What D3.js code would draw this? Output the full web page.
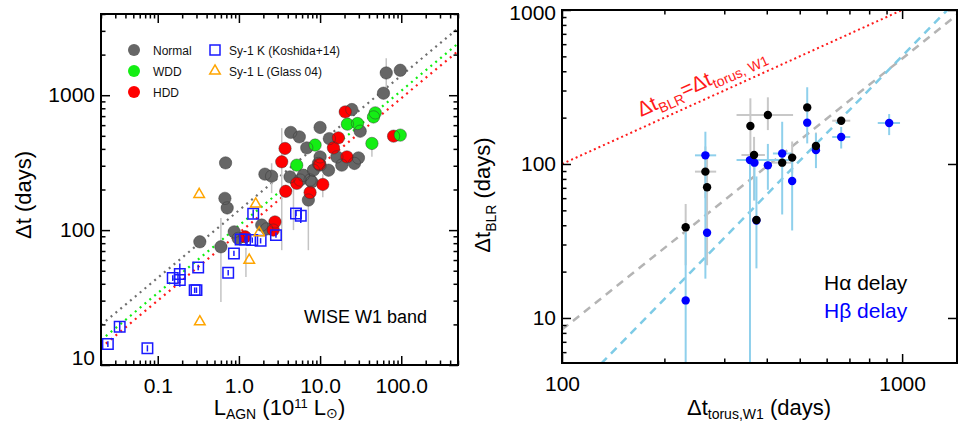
<!DOCTYPE html>
<html>
<head>
<meta charset="utf-8">
<script src="https://cdn.jsdelivr.net/npm/d3@7"></script>
<style>
  body { margin: 0; background: #fff; }
  svg { display: block; }
</style>
</head>
<body>
<div id="chart"></div>
<script>
// ---- left panel: [L_AGN (1e11 Lsun), dt (days)] ----
const normal = [
  [97.2, 1531], [65.3, 1462], [60.4, 1035], [24.6, 783], [31.2, 541], [10.0, 577],
  [4.35, 530], [5.55, 491], [13.0, 477], [6.85, 407], [16.1, 349], [29.7, 343],
  [26.5, 312], [18.5, 303], [10.0, 349], [9.53, 312], [12.7, 278], [8.27, 278],
  [6.22, 255], [5.66, 235], [4.26, 248], [7.53, 235], [7.17, 167], [7.90, 228],
  [2.09, 260], [2.53, 251], [0.685, 315], [0.672, 172], [0.717, 146], [0.330, 81.9],
  [0.600, 75.2], [0.875, 97.1], [0.98, 86.8], [1.91, 109], [2.20, 102], [10.0, 303]
]
const hdd = [
  [20.4, 752], [16.8, 483], [14.6, 407], [21.4, 349], [3.70, 403], [3.37, 321],
  [9.8, 307], [5.16, 222], [10.8, 218], [3.77, 194], [7.53, 190], [2.78, 115],
  [2.65, 100], [1.19, 89.2], [80.4, 497]
]
const wdd = [
  [47.8, 740], [45.5, 690], [21.7, 610], [28.9, 617], [43.5, 439], [97.2, 506],
  [8.68, 427], [5.16, 303]
]
// L, dt, lo, hi
const koshida = [
  [0.0243, 14.3, 13.6, 15.0], [0.034, 19.2, 17.7, 20.9], [0.0746, 13.3, 12.6, 14.0],
  [0.153, 44.1, 42.0, 46.3], [0.187, 47.2, 38.0, 56.6], [0.187, 42.6, 40.6, 44.7],
  [0.315, 52.9, 50.5, 55.4], [0.285, 35.9, 34.2, 37.6], [0.300, 35.9, 34.2, 37.6],
  [0.738, 48.3, 46.0, 50.7], [0.868, 67.2, 64.2, 70.3], [1.05, 85.3, 81.5, 89.3],
  [1.19, 85.3, 81.5, 89.3], [1.46, 84.3, 80.5, 88.2], [1.85, 83.3, 79.6, 87.2],
  [1.50, 132, 122, 142], [2.86, 91.8, 87.7, 96.1], [5.05, 133, 127, 139],
  [5.78, 128, 113, 146]
]
const glass = [[0.324, 184], [1.61, 156], [1.78, 95.5], [1.34, 59.9], [0.330, 20.9]]
// L, lo, hi
const lagErr = [
  [65.3, 1146, 1879], [2.53, 188, 313], [7.17, 71, 167], [0.600, 29.3, 123],
  [4.7, 100, 290], [3.37, 71, 570], [1.22, 45, 74], [10.8, 175, 260], [43.5, 350, 440]
]
// dt at L = 1, slope
const fitNormal = [140, 0.5]
const fitWDD = [108, 0.5]
const fitHDD = [95, 0.5]

// ---- right panel: torus, blr, torusLo, torusHi, blrLo, blrHi ----
const halpha = [
  [231, 38.8, null, null, 22, 55],
  [264, 89.2, 246, 284, 60, 130],
  [267, 70.6, null, null, 22, 110],
  [358, 176.5, null, null, 112, 267],
  [367, 114.4, 337, 395, 58, 150],
  [373, 43.3, null, null, null, null],
  [403, 208, 326, 478, 166, 271],
  [444, 102, 417, 473, null, null],
  [475, 110, null, null, 87, 140],
  [526, 233, null, null, null, null],
  [558, 131, null, null, 110, 160],
  [662, 191, 623, 704, null, null]
]
const hbeta = [
  [231, 13.0, null, null, 4, 36],
  [264, 113.8, 246, 284, 18, 162],
  [267, 35.8, null, null, null, null],
  [357, 106, 326, 478, 4, 110],
  [368, 102, null, null, 58, 115],
  [373, 43, null, null, 21, 83],
  [403, 98, null, null, 68, 135],
  [444, 117, 417, 473, 47, 188],
  [475, 77.6, null, null, 37, 109],
  [526, 185.5, null, null, 136, 315],
  [558, 123, null, null, 94, 158],
  [662, 149.7, 623, 704, 126, 174],
  [916, 184.6, 848, 986, 154, 211]
]
// dt_BLR at dt_torus = 100, slope
const fitHa = [8.4, 1.76]
const fitHb = [2.78, 2.256]
const fitOne = [100, 1]

const width = 959
const height = 423
const font = "'Liberation Sans', Arial, Helvetica, sans-serif"

const svg = d3.select('#chart').append('svg')
  .attr('width', width)
  .attr('height', height)
  .attr('viewBox', [0, 0, width, height])
  .attr('font-family', font)

const xL = d3.scaleLog().domain([0.02, 500]).range([101, 458])
const yL = d3.scaleLog().domain([10, 4000]).range([365, 14])
const xR = d3.scaleLog().domain([100, 1450]).range([562, 957])
const yR = d3.scaleLog().domain([5.1, 1000]).range([363, 10])

const defs = svg.append('defs')
const clip = (id, x, y) => defs.append('clipPath').attr('id', id)
  .append('rect')
  .attr('x', x.range()[0]).attr('y', y.range()[1])
  .attr('width', x.range()[1] - x.range()[0])
  .attr('height', y.range()[0] - y.range()[1])
clip('clipL', xL, yL)
clip('clipR', xR, yR)

const isMajor = (majors, v) => majors.some(m => Math.abs(Math.log10(m / v)) < 1e-6)

const axes = (x, y, { xMajor, yMajor, xFmt, yFmt, rightMinor = true }) => {
  const [x0, x1] = x.range()
  const [y0, y1] = y.range()
  const xMinor = x.ticks().filter(v => !isMajor(xMajor, v))
  const yMinor = y.ticks().filter(v => !isMajor(yMajor, v))
  const g = svg.append('g')
  const ticks = (fn, scale, values, size, tr) => g.append('g')
    .attr('transform', tr)
    .call(fn(scale).tickValues(values).tickSizeInner(-size).tickSizeOuter(0).tickFormat(''))
    .call(s => s.select('.domain').remove())
    .call(s => s.selectAll('.tick line').attr('stroke', '#000').attr('stroke-width', 1.5))

  ticks(d3.axisBottom, x, xMinor, 4.5, `translate(0,${y0})`)
  ticks(d3.axisTop, x, xMinor, 4.5, `translate(0,${y1})`)
  ticks(d3.axisTop, x, xMajor, 9, `translate(0,${y1})`)
  ticks(d3.axisLeft, y, yMinor, 4.5, `translate(${x0},0)`)
  if (rightMinor) ticks(d3.axisRight, y, yMinor, 4.5, `translate(${x1},0)`)
  ticks(d3.axisRight, y, yMajor, 9, `translate(${x1},0)`)

  g.append('g')
    .attr('transform', `translate(0,${y0})`)
    .call(d3.axisBottom(x).tickValues(xMajor).tickSizeInner(-9).tickSizeOuter(0).tickPadding(13).tickFormat(xFmt))
    .call(s => s.select('.domain').remove())
    .call(s => s.selectAll('.tick line').attr('stroke', '#000').attr('stroke-width', 1.5))
    .call(s => s.selectAll('text').attr('font-size', 21).attr('font-family', font).attr('fill', '#000'))

  g.append('g')
    .attr('transform', `translate(${x0},0)`)
    .call(d3.axisLeft(y).tickValues(yMajor).tickSizeInner(-9).tickSizeOuter(0).tickPadding(6).tickFormat(yFmt))
    .call(s => s.select('.domain').remove())
    .call(s => s.selectAll('.tick line').attr('stroke', '#000').attr('stroke-width', 1.5))
    .call(s => s.selectAll('text')
      .attr('font-size', 21).attr('font-family', font).attr('fill', '#000')
      .attr('y', d => Math.min(Math.max(y(d), y1 + 3), y0 - 7) - y(d)))

  g.append('rect')
    .attr('x', x0).attr('y', y1)
    .attr('width', x1 - x0).attr('height', y0 - y1)
    .attr('fill', 'none')
    .attr('stroke', '#000')
    .attr('stroke-width', 2)
}

// ---------- left panel ----------
const left = svg.append('g').attr('clip-path', 'url(#clipL)')

const powerLine = (x, y, [a, b], x0 = 1) => d3.line()
  .x(d => x(d))
  .y(d => y(a * Math.pow(d / x0, b)))(x.domain())

;[[fitNormal, '#6e6e6e'], [fitWDD, '#11ee11'], [fitHDD, '#ff1a1a']].forEach(([f, c]) => {
  left.append('path')
    .attr('d', powerLine(xL, yL, f))
    .attr('fill', 'none')
    .attr('stroke', c)
    .attr('stroke-width', 2.2)
    .attr('stroke-dasharray', '2,4.3')
})

left.selectAll('line.err')
  .data(lagErr)
  .join('line')
  .attr('x1', d => xL(d[0])).attr('x2', d => xL(d[0]))
  .attr('y1', d => yL(d[1])).attr('y2', d => yL(d[2]))
  .attr('stroke', '#c4c4c4')
  .attr('stroke-width', 1.5)

const circleSets = [[normal, '#666666'], [hdd, '#ff0000'], [wdd, '#14ee14']]
circleSets.forEach(([data, c]) => {
  left.append('g').selectAll('circle')
    .data(data)
    .join('circle')
    .attr('cx', d => xL(d[0]))
    .attr('cy', d => yL(d[1]))
    .attr('r', 6.2)
    .attr('fill', c)
})
circleSets.forEach(([data]) => {
  left.append('g').selectAll('circle')
    .data(data)
    .join('circle')
    .attr('cx', d => xL(d[0]))
    .attr('cy', d => yL(d[1]))
    .attr('r', 6.2)
    .attr('fill', 'none')
    .attr('stroke', '#333')
    .attr('stroke-opacity', 0.55)
    .attr('stroke-width', 0.8)
})

const sq = left.append('g')
sq.selectAll('line')
  .data(koshida)
  .join('line')
  .attr('x1', d => xL(d[0])).attr('x2', d => xL(d[0]))
  .attr('y1', d => yL(d[2])).attr('y2', d => yL(d[3]))
  .attr('stroke', '#1a1aff')
  .attr('stroke-width', 1.5)
sq.selectAll('path')
  .data(koshida)
  .join('path')
  .attr('transform', d => `translate(${xL(d[0])},${yL(d[1])})`)
  .attr('d', d3.symbol(d3.symbolSquare, 110))
  .attr('fill', 'none')
  .attr('stroke', '#1a1aff')
  .attr('stroke-width', 1.5)

left.append('g').selectAll('path')
  .data(glass)
  .join('path')
  .attr('transform', d => `translate(${xL(d[0])},${yL(d[1])})`)
  .attr('d', d3.symbol(d3.symbolTriangle, 48))
  .attr('fill', 'none')
  .attr('stroke', '#ffa500')
  .attr('stroke-width', 1.5)

axes(xL, yL, {
  xMajor: [0.1, 1, 10, 100],
  yMajor: [10, 100, 1000],
  xFmt: d3.format('.1f'),
  yFmt: d3.format('d')
})

// legend
const legend = svg.append('g').attr('font-size', 12).attr('fill', '#111')
const legCircles = [['Normal', '#666666'], ['WDD', '#14ee14'], ['HDD', '#ff0000']]
legCircles.forEach(([label, c], i) => {
  const y = 50 + i * 21
  legend.append('circle').attr('cx', 134).attr('cy', y).attr('r', 6).attr('fill', c)
  legend.append('text').attr('x', 153).attr('y', y + 4.5).text(label)
})
legend.append('path')
  .attr('transform', 'translate(215,50)')
  .attr('d', d3.symbol(d3.symbolSquare, 100))
  .attr('fill', 'none').attr('stroke', '#1a1aff').attr('stroke-width', 1.5)
legend.append('text').attr('x', 229).attr('y', 54.5).text('Sy-1 K (Koshida+14)')
legend.append('path')
  .attr('transform', 'translate(215,71)')
  .attr('d', d3.symbol(d3.symbolTriangle, 48))
  .attr('fill', 'none').attr('stroke', '#ffa500').attr('stroke-width', 1.5)
legend.append('text').attr('x', 229).attr('y', 75.5).text('Sy-1 L (Glass 04)')

svg.append('text')
  .attr('x', 427).attr('y', 323)
  .attr('text-anchor', 'end')
  .attr('font-size', 18)
  .text('WISE W1 band')

// left titles
const xTitleL = svg.append('text')
  .attr('x', 279.5).attr('y', 415)
  .attr('text-anchor', 'middle')
  .attr('font-size', 22)
xTitleL.append('tspan').text('L')
xTitleL.append('tspan').attr('font-size', 14).attr('dy', 4).text('AGN')
xTitleL.append('tspan').attr('dy', -4).text(' (10')
xTitleL.append('tspan').attr('font-size', 13).attr('dy', -7).text('11')
xTitleL.append('tspan').attr('dy', 7).text(' L')
xTitleL.append('tspan').attr('font-size', 14).attr('dy', 3).text('\u2299')
xTitleL.append('tspan').attr('dy', -3).text(')')

svg.append('text')
  .attr('transform', 'translate(31,195) rotate(-90)')
  .attr('text-anchor', 'middle')
  .attr('font-size', 22)
  .text('\u0394t (days)')

// ---------- right panel ----------
const right = svg.append('g').attr('clip-path', 'url(#clipR)')

right.append('path')
  .attr('d', powerLine(xR, yR, fitOne, 100))
  .attr('fill', 'none')
  .attr('stroke', '#ff1a1a')
  .attr('stroke-width', 2)
  .attr('stroke-dasharray', '2,3')
right.append('path')
  .attr('d', powerLine(xR, yR, fitHa, 100))
  .attr('fill', 'none')
  .attr('stroke', '#b4b4b4')
  .attr('stroke-width', 2.5)
  .attr('stroke-dasharray', '8,6')
right.append('path')
  .attr('d', powerLine(xR, yR, fitHb, 100))
  .attr('fill', 'none')
  .attr('stroke', '#7ecbe6')
  .attr('stroke-width', 2.5)
  .attr('stroke-dasharray', '8,6')

const errBars = (data, c) => {
  const g = right.append('g').attr('stroke', c).attr('stroke-width', 2)
  g.selectAll('line.v')
    .data(data.filter(d => d[4] != null))
    .join('line')
    .attr('x1', d => xR(d[0])).attr('x2', d => xR(d[0]))
    .attr('y1', d => yR(d[4])).attr('y2', d => yR(d[5]))
  g.selectAll('line.h')
    .data(data.filter(d => d[2] != null))
    .join('line')
    .attr('x1', d => xR(d[2])).attr('x2', d => xR(d[3]))
    .attr('y1', d => yR(d[1])).attr('y2', d => yR(d[1]))
}
errBars(halpha, '#c8c8c8')
errBars(hbeta, '#8fd0ec')

;[[hbeta, '#0000ff'], [halpha, '#000000']].forEach(([data, c]) => {
  right.append('g').selectAll('circle')
    .data(data)
    .join('circle')
    .attr('cx', d => xR(d[0]))
    .attr('cy', d => yR(d[1]))
    .attr('r', 4.2)
    .attr('fill', c)
})

axes(xR, yR, {
  xMajor: [100, 1000],
  yMajor: [10, 100, 1000],
  xFmt: d3.format('d'),
  yFmt: d3.format('d'),
  rightMinor: false
})

// identity label along the red line
const angle = Math.atan2(yR(100) - yR(1000), xR(1000) - xR(100)) * 180 / Math.PI
const idLabel = svg.append('text')
  .attr('transform', `translate(641,117) rotate(${-angle})`)
  .attr('font-size', 21)
  .attr('fill', '#ff1a1a')
idLabel.append('tspan').text('\u0394t')
idLabel.append('tspan').attr('font-size', 14).attr('dy', 5).text('BLR')
idLabel.append('tspan').attr('dy', -5).text('=\u0394t')
idLabel.append('tspan').attr('font-size', 14).attr('dy', 5).text('torus, W1')

svg.append('text')
  .attr('x', 824).attr('y', 290)
  .attr('font-size', 21)
  .attr('fill', '#000')
  .text('H\u03b1 delay')
svg.append('text')
  .attr('x', 824).attr('y', 318)
  .attr('font-size', 21)
  .attr('fill', '#0000ff')
  .text('H\u03b2 delay')

const xTitleR = svg.append('text')
  .attr('x', 759).attr('y', 415)
  .attr('text-anchor', 'middle')
  .attr('font-size', 22)
xTitleR.append('tspan').text('\u0394t')
xTitleR.append('tspan').attr('font-size', 14).attr('dy', 4).text('torus,W1')
xTitleR.append('tspan').attr('dy', -4).text(' (days)')

const yTitleR = svg.append('text')
  .attr('transform', 'translate(490,195) rotate(-90)')
  .attr('text-anchor', 'middle')
  .attr('font-size', 22)
yTitleR.append('tspan').text('\u0394t')
yTitleR.append('tspan').attr('font-size', 14).attr('dy', 6).text('BLR')
yTitleR.append('tspan').attr('dy', -6).text(' (days)')
</script>
</body>
</html>
